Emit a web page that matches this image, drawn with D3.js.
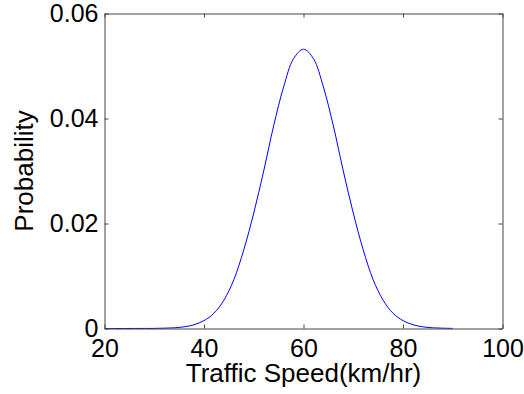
<!DOCTYPE html>
<html>
<head>
<meta charset="utf-8">
<script src="https://cdn.jsdelivr.net/npm/d3@7"></script>
<style>
	body { margin: 0; background: #fff; }
	svg text { font-family: "Liberation Sans", Arial, sans-serif; fill: #000; }
</style>
</head>
<body>
<div id="chart"></div>
<script>
// Speed values (km/hr) and the probability
var speeds = [20, 22, 24, 26, 28, 30, 32, 34, 36, 38, 40, 42, 44, 46, 48, 50, 52, 54,
	56, 58, 60, 62, 64, 66, 68, 70, 72, 74, 76, 78, 80, 82, 84, 86, 88, 90];
var probability = [0, 0, 0, 0.00001, 0.00001, 0.00002, 0.00006, 0.00013, 0.00032, 0.00072,
	0.0015, 0.0029, 0.0054, 0.0093, 0.015, 0.022, 0.030, 0.0386, 0.046, 0.0514,
	0.0532, 0.0514, 0.046, 0.0386, 0.030, 0.022, 0.015, 0.0093, 0.0054, 0.0029,
	0.0015, 0.00072, 0.00032, 0.00013, 0.00006, 0.00002];

var xTicks = [20, 40, 60, 80, 100];
var yTicks = [0, 0.02, 0.04, 0.06];
var yTickLabels = ["0", "0.02", "0.04", "0.06"];

var width = 524, height = 394;
var plot = { left: 104.5, right: 502.5, top: 13.5, bottom: 328.5 };

var svg = d3.select("#chart")
	.append("svg")
	.attr("width", width)
	.attr("height", height);

// Scales:
var xScale = d3.scaleLinear()
	.domain([20, 100])
	.range([plot.left, plot.right]);

var yScale = d3.scaleLinear()
	.domain([0, 0.06])
	.range([plot.bottom, plot.top]);

// The curve:
var line = d3.line()
	.x(function(d, i){ return xScale(speeds[i]); })
	.y(function(d){ return yScale(d); })
	.curve(d3.curveCatmullRom);

svg.append("path")
	.datum(probability)
	.attr("d", line)
	.attr("fill", "none")
	.attr("stroke", "#0000ff")
	.attr("stroke-width", 1);

// Axes (ticks point inward, box all round):
var axisColor = "#444";

var bottomAxis = svg.append("g")
	.attr("transform", "translate(0," + plot.bottom + ")")
	.call(d3.axisBottom(xScale)
		.tickValues(xTicks)
		.tickFormat(d3.format("d"))
		.tickSizeInner(-4)
		.tickSizeOuter(0)
		.tickPadding(11));

var leftAxis = svg.append("g")
	.attr("transform", "translate(" + plot.left + ",0)")
	.call(d3.axisLeft(yScale)
		.tickValues(yTicks)
		.tickFormat(function(d, i){ return yTickLabels[i]; })
		.tickSizeInner(-4)
		.tickSizeOuter(0)
		.tickPadding(6));

var topAxis = svg.append("g")
	.attr("transform", "translate(0," + plot.top + ")")
	.call(d3.axisTop(xScale)
		.tickValues(xTicks)
		.tickFormat("")
		.tickSizeInner(-4)
		.tickSizeOuter(0));

var rightAxis = svg.append("g")
	.attr("transform", "translate(" + plot.right + ",0)")
	.call(d3.axisRight(yScale)
		.tickValues(yTicks)
		.tickFormat("")
		.tickSizeInner(-4)
		.tickSizeOuter(0));

[bottomAxis, leftAxis, topAxis, rightAxis].forEach(function(a){
	a.selectAll("path, line").attr("stroke", axisColor);
	a.selectAll("text").attr("font-size", "25px").attr("fill", "#000");
});

// Axis labels:
svg.append("text")
	.attr("x", (plot.left + plot.right) / 2)
	.attr("y", 382)
	.attr("text-anchor", "middle")
	.attr("font-size", "26px")
	.text("Traffic Speed(km/hr)");

svg.append("text")
	.attr("transform", "translate(33," + (plot.top + plot.bottom) / 2 + ") rotate(-90)")
	.attr("text-anchor", "middle")
	.attr("font-size", "26px")
	.text("Probability");
</script>
</body>
</html>
